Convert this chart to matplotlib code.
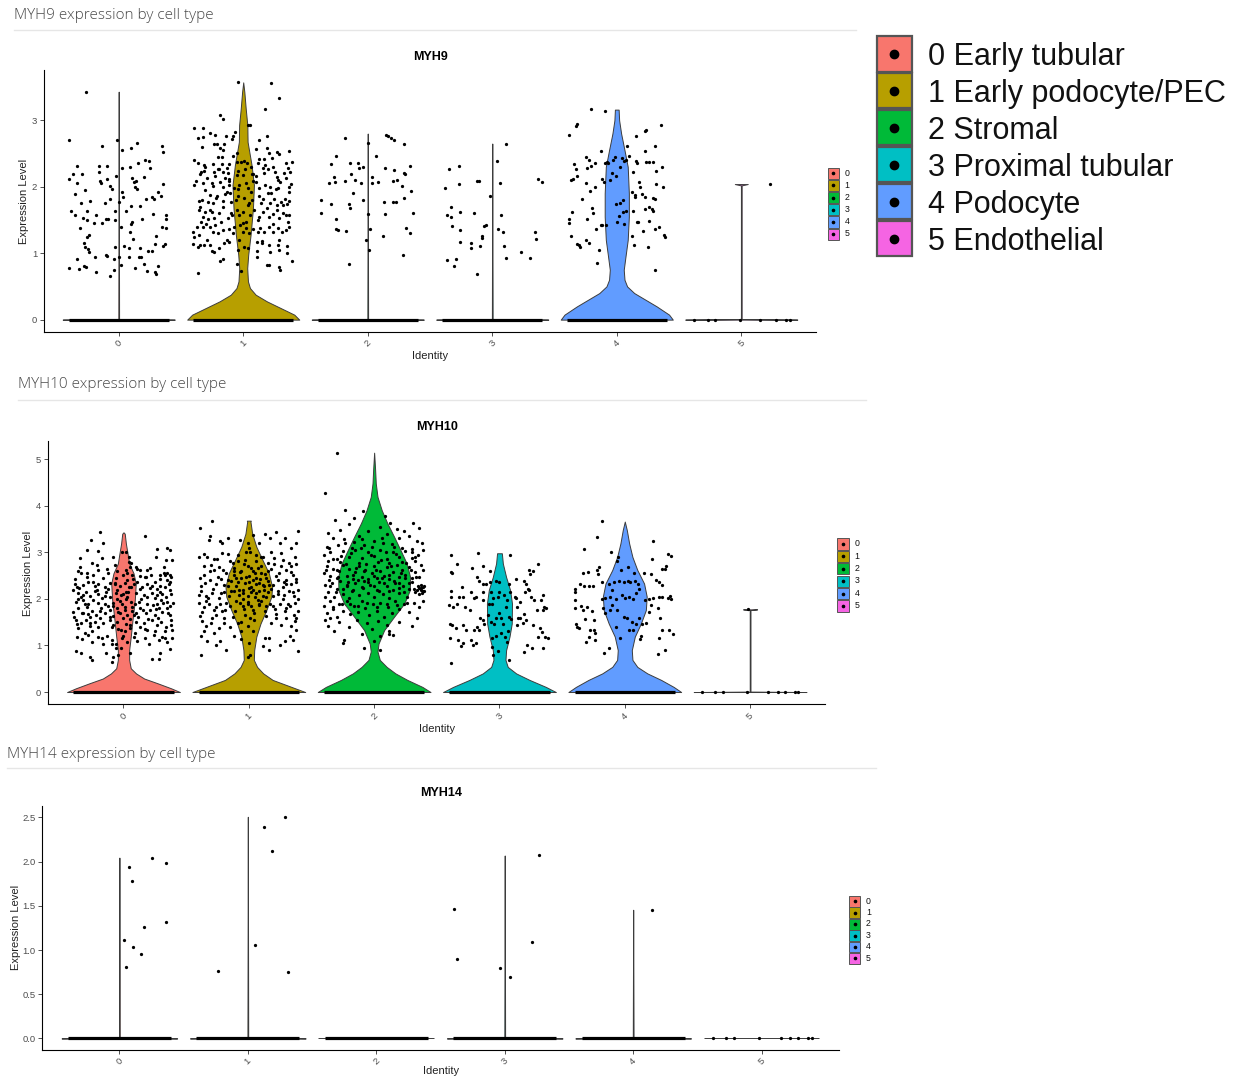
import numpy as np
import matplotlib
matplotlib.use('Agg')
import matplotlib.pyplot as plt
from matplotlib.patches import Rectangle
from matplotlib.lines import Line2D

W, H = 1245, 1076

clusters = ['0', '1', '2', '3', '4', '5']
cell_types = ['Early tubular', 'Early podocyte/PEC', 'Stromal',
              'Proximal tubular', 'Podocyte', 'Endothelial']
colors = ['#F8766D', '#B79F00', '#00BA38', '#00BFC4', '#619CFF', '#F564E3']

# violin outlines: expression level and half width (cluster units)
myh9_vy = [
    [0, .01, 3.43],
    [0, .075, .175, .275, .375, .475, .575, .775, .975, 1.275, 1.675, 2.025, 2.325, 2.675, 2.925, 3.175, 3.425, 3.57],
    [0, .01, 2.80],
    [0, .01, 2.65],
    [0, .075, .2, .3, .4, .5, .6, .75, .95, 1.2, 1.55, 1.9, 2.3, 2.55, 2.8, 3.0, 3.16],
    [0, .01, 2.02, 2.04],
]
myh9_vw = [
    [.45, .003, 0],
    [.45, .41, .30, .19, .10, .054, .038, .032, .04, .059, .078, .086, .067, .035, .033, .02, .009, 0],
    [.45, .003, 0],
    [.45, .003, 0],
    [.45, .42, .32, .23, .14, .083, .062, .056, .07, .088, .097, .097, .088, .062, .035, .019, .015],
    [.45, .003, .003, .052],
]
myh10_vy = [
    [0, .08, .19, .29, .4, .51, .69, .9, 1.19, 1.55, 1.97, 2.33, 2.55, 2.76, 2.98, 3.19, 3.4, 3.43],
    [0, .11, .26, .4, .54, .69, .9, 1.19, 1.47, 1.76, 2.05, 2.26, 2.55, 2.83, 3.12, 3.4, 3.66, 3.68],
    [0, .11, .26, .4, .54, .69, .87, 1.04, 1.33, 1.62, 1.9, 2.19, 2.47, 2.76, 3.05, 3.33, 3.62, 3.9, 4.19, 4.48, 4.77, 5.14],
    [0, .11, .26, .4, .54, .69, .9, 1.19, 1.47, 1.9, 2.19, 2.47, 2.76, 2.98],
    [0, .11, .26, .4, .54, .69, .9, 1.19, 1.47, 1.76, 2.05, 2.33, 2.62, 2.9, 3.19, 3.48, 3.66],
    [0, .01, 1.76, 1.775],
]
myh10_vw = [
    [.45, .38, .27, .165, .1, .058, .045, .045, .058, .072, .09, .098, .08, .045, .032, .019, .01, 0],
    [.45, .34, .19, .115, .066, .04, .043, .06, .093, .14, .18, .186, .16, .11, .06, .027, .013, .016],
    [.45, .385, .265, .17, .1, .045, .027, .035, .08, .16, .24, .285, .287, .26, .21, .16, .106, .061, .027, .013, .008, 0],
    [.45, .37, .24, .133, .066, .048, .053, .08, .098, .1, .085, .053, .027, .019],
    [.45, .39, .29, .18, .1, .061, .056, .08, .128, .168, .175, .154, .1, .061, .035, .016, 0],
    [.45, .003, .003, .056],
]
myh14_vy = [[0, .01, 2.046], [0, .01, 2.508], [0, .002], [0, .01, 2.07], [0, .01, 1.456], [0, .002]]
myh14_vw = [[.45, .003, 0], [.45, .003, 0], [.45, .45], [.45, .003, 0], [.45, .003, 0], [.45, .45]]

# non-zero cells: pairs of (jitter offset, expression level), one list per cluster
myh9_pts = [
    [-.265, 3.425, -.40, 2.71, -.013, 2.70, .349, 2.615, .357, 2.525, .147, 2.665, .099, 2.585, .027, 2.55,
     -.134, 2.615, -.335, 2.315, -.397, 2.115, -.365, 2.185, -.295, 2.185, -.335, 2.055, -.161, 2.315,
     -.161, 2.225, -.094, 2.315, -.153, 2.085, -.094, 2.115, -.072, 2.015, -.054, 1.965, -.024, 2.155,
     .027, 2.275, .094, 2.29, .155, 2.35, .209, 2.40, .241, 2.385, .142, 2.085, .107, 2.135, .121, 2.065,
     .131, 2.00, .147, 1.965, .201, 2.15, .255, 2.275, .314, 1.915, .338, 1.865, .357, 2.04, .268, 1.845,
     .281, 1.815, -.386, 1.64, -.351, 1.575, -.306, 1.76, -.233, 1.79, -.287, 1.535, -.255, 1.64,
     -.255, 1.50, -.18, 1.575, -.107, 1.76, -.067, 1.815, .003, 1.765, .038, 1.85, .102, 1.715, .169, 1.715,
     -.131, 1.46, -.099, 1.515, -.032, 1.50, -.032, 1.64, .097, 1.435, .107, 1.465, .185, 1.515, .276, 1.585,
     .383, 1.57, .378, 1.515, .349, 1.40, .383, 1.385, .303, 1.265, .375, 1.135, .357, 1.115, .295, 1.14,
     .271, 1.03, .236, 1.04, .169, 1.075, .115, 1.21, .08, 1.085, .04, 1.11, -.032, 1.10, -.086, 1.51,
     -.255, 1.24, -.236, 1.275, -.282, 1.16, -.273, 1.10, -.247, 1.065, -.241, 1.025, -.314, 1.385,
     -.332, .905, -.193, .935, -.105, .975, -.096, .96, -.04, .91, .003, .935, .08, .945, .164, .945,
     .182, .94, .204, .835, .225, .735, .29, .71, .298, .685, .316, .81, -.40, .775, -.322, .765, -.276, .81,
     -.26, .795, -.18, .71, -.072, .65, -.038, .75, .021, .815, .131, .77, .062, 1.635, .094, 1.315,
     .016, 1.40, .027, 1.925, .223, 1.815, -.201, 1.45, -.139, 2.05, -.268, 1.95, -.354, 1.89],
    [-.043, 3.575, .225, 3.565, .29, 3.335, .177, 3.165, -.185, 3.085, -.166, 3.015, .054, 2.935, .035, 2.935,
     -.394, 2.885, -.327, 2.885, -.322, 2.745, -.362, 2.74, -.265, 2.815, -.228, 2.785, -.233, 2.64,
     -.214, 2.65, -.137, 2.765, -.086, 2.765, -.094, 2.725, -.153, 2.64, -.166, 2.55, -.064, 2.825,
     .129, 2.71, .188, 2.765, .188, 2.58, .271, 2.525, .29, 2.49, .37, 2.54, .228, 2.425, .164, 2.41,
     .129, 2.41, -.399, 2.40, -.365, 2.36, -.314, 2.325, -.241, 2.335, -.172, 2.45, -.172, 2.335,
     -.113, 2.335, -.086, 2.46, -.046, 2.365, -.019, 2.375, .003, 2.385, .029, 2.36, .064, 2.30, .118, 2.35,
     .177, 2.325, .241, 2.295, .343, 2.35, .389, 2.365, -.343, 2.225, -.314, 2.24, -.346, 2.19, -.233, 2.225,
     -.206, 2.26, -.193, 2.265, -.166, 2.225, -.131, 2.285, -.225, 2.16, -.147, 2.135, -.113, 2.12,
     -.046, 2.175, -.038, 2.24, .016, 2.265, .067, 2.19, .075, 2.195, .102, 2.16, .169, 2.21, .196, 2.26,
     .257, 2.225, .271, 2.15, .33, 2.20, .343, 2.125, .378, 2.215, -.394, 2.025, -.322, 2.05, -.287, 2.125,
     -.311, 1.95, -.239, 2.015, -.188, 2.075, -.166, 2.00, -.118, 2.085, -.118, 2.025, -.131, 1.925,
     -.107, 1.90, -.072, 1.975, -.032, 2.025, .021, 2.05, .035, 1.985, .062, 1.925, .102, 2.065, .129, 1.975,
     .177, 2.025, .217, 2.00, .225, 1.90, .282, 1.975, .298, 2.065, .365, 2.00, .383, 2.035, .37, 1.925,
     -.359, 1.785, -.332, 1.80, -.279, 1.775, -.239, 1.76, -.222, 1.825, -.166, 1.785, -.147, 1.885,
     -.099, 1.775, -.059, 1.80, -.038, 1.865, .008, 1.825, .048, 1.75, .07, 1.80, .142, 1.75, .161, 1.815,
     .214, 1.76, .249, 1.815, .268, 1.725, .303, 1.775, .338, 1.815, .348, 1.735, -.354, 1.65, -.306, 1.615,
     -.268, 1.65, -.327, 1.55, -.343, 1.475, -.279, 1.51, -.247, 1.615, -.233, 1.535, -.193, 1.60,
     -.18, 1.475, -.121, 1.525, -.094, 1.575, -.051, 1.65, -.032, 1.575, -.005, 1.625, .021, 1.475,
     .056, 1.575, .089, 1.65, .123, 1.55, .156, 1.625, .188, 1.675, .209, 1.55, .241, 1.585, .268, 1.65,
     .29, 1.525, .322, 1.60, .37, 1.575, .357, 1.475, -.40, 1.325, -.394, 1.25, -.354, 1.275, -.327, 1.40,
     -.295, 1.435, -.265, 1.40, -.241, 1.325, -.206, 1.30, -.161, 1.35, -.118, 1.365, -.072, 1.40,
     -.027, 1.425, -.005, 1.325, .021, 1.385, .08, 1.365, .121, 1.325, .137, 1.385, .169, 1.325, .204, 1.40,
     .241, 1.325, .282, 1.385, .311, 1.325, .343, 1.35, .365, 1.40, -.40, 1.135, -.349, 1.125, -.314, 1.125,
     -.268, 1.125, -.247, 1.04, -.233, 1.015, -.198, 1.085, -.153, 1.15, -.118, 1.175, -.032, 1.20,
     -.038, 1.05, .008, 1.10, .035, 1.075, .107, 1.175, .11, 1.035, .147, 1.15, .204, 1.125, .214, 1.025,
     .282, 1.125, .29, 1.05, .348, 1.115, .351, 1.00, .389, .875, -.166, .915, -.185, .885, .107, .935,
     .188, .825, .209, .825, .284, .785, .295, .75, -.046, .835, -.019, .725, -.362, .70,
     -.38, 2.08, -.35, 1.7, -.31, 2.3, -.27, 1.88, -.23, 1.42, -.2, 2.44, -.16, 1.7, -.12, 2.2, -.08, 1.3, -.04, 1.96,
     .0, 2.18, .04, 1.72, .08, 2.08, .12, 1.5, .16, 2.28, .2, 1.9, .24, 1.44, .28, 2.1, .32, 1.72, .36, 2.28,
     -.37, 1.4, -.29, 1.2, -.21, 1.86, -.13, 1.2, -.05, 2.5, .05, 1.3, .13, 1.86, .21, 2.5, .29, 1.2, .37, 1.78,
     -.33, 2.6, -.19, 2.58, .1, 2.56, .26, 1.96, .34, 1.58, -.1, 1.6, .0, 1.45, -.25, 2.05, .15, 1.18, -.36, 1.1],
    [-.18, 2.735, .003, 2.66, .147, 2.785, .166, 2.765, .188, 2.735, .214, 2.70, .29, 2.64, -.255, 2.46,
     -.298, 2.335, -.08, 2.36, .064, 2.465, -.145, 2.35, -.072, 2.285, -.035, 2.29, -.274, 2.15,
     -.263, 2.075, -.311, 2.05, -.18, 2.085, -.131, 2.185, -.105, 2.10, -.051, 2.05, .035, 2.15, .032, 2.05,
     .083, 2.075, .137, 2.28, .212, 2.25, .292, 2.20, .303, 2.19, .338, 2.31, .204, 2.085, .231, 2.10,
     .276, 2.015, .346, 1.935, -.378, 1.80, -.298, 1.74, -.153, 1.74, -.118, 1.90, -.145, 1.675, -.038, 1.80,
     .131, 1.775, .204, 1.775, .223, 1.775, .292, 1.825, -.378, 1.60, .003, 1.59, .142, 1.585, .365, 1.61,
     -.252, 1.51, -.257, 1.36, -.239, 1.345, -.172, 1.335, .016, 1.36, .123, 1.26, .311, 1.375, .343, 1.30,
     -.011, 1.20, .008, 1.05, .284, .975, -.15, .84],
    [.11, 2.64, .04, 2.38, -.346, 2.27, -.271, 2.31, -.381, 1.975, -.271, 2.045, -.123, 2.085, -.107, 2.085,
     .064, 2.05, .365, 2.11, .40, 2.07, -.016, 1.86, -.335, 1.69, -.365, 1.575, -.332, 1.54, -.263, 1.625,
     -.15, 1.60, .072, 1.57, -.327, 1.41, -.257, 1.35, -.07, 1.41, -.051, 1.425, .043, 1.365, .086, 1.325,
     .343, 1.325, .354, 1.22, -.083, 1.26, -.083, 1.235, -.26, 1.17, -.174, 1.15, -.174, 1.085, -.102, 1.115,
     .091, 1.11, .231, 1.025, -.365, .90, -.295, .91, -.308, .805, .107, .925, .30, .925, -.123, .685],
    [-.209, 3.165, -.094, 3.145, -.386, 2.775, -.327, 2.91, -.319, 2.94, .236, 2.85, .228, 2.84, .357, 2.925,
     .158, 2.76, .08, 2.615, .311, 2.615, -.126, 2.53, -.247, 2.44, -.22, 2.40, -.172, 2.36, -.097, 2.36,
     -.07, 2.36, -.029, 2.40, .043, 2.425, .056, 2.39, .097, 2.465, .078, 2.40, .153, 2.39, .164, 2.35,
     .225, 2.535, .233, 2.365, .26, 2.375, .287, 2.365, .319, 2.24, .367, 2.30, -.343, 2.34, -.324, 2.265,
     -.204, 2.315, -.236, 2.275, -.319, 2.16, -.351, 2.11, -.365, 2.10, -.115, 2.11, -.105, 2.075,
     -.056, 2.10, -.035, 2.20, -.003, 2.16, .134, 2.215, .18, 2.075, .126, 1.925, .185, 2.00, .204, 1.885,
     .145, 1.85, .145, 1.875, .228, 1.85, .287, 1.825, .308, 1.815, .37, 1.99, .319, 2.04, -.249, 2.05,
     -.172, 1.99, -.212, 1.935, -.276, 1.81, -.196, 1.675, -.19, 1.60, -.236, 1.515, -.362, 1.62, -.386, 1.51,
     -.383, 1.46, -.005, 1.74, .024, 1.75, .051, 1.80, .016, 1.56, .046, 1.615, .078, 1.64, .062, 1.44,
     .005, 1.47, .129, 1.64, .161, 1.47, .172, 1.475, .225, 1.66, .255, 1.49, .26, 1.69, .279, 1.66,
     .287, 1.635, .306, 1.37, .34, 1.39, .381, 1.275, .389, 1.25, .212, 1.33, .121, 1.265, .137, 1.12,
     .252, 1.09, .308, .745, -.118, 1.425, -.083, 1.425, -.164, 1.36, -.365, 1.265, -.319, 1.135,
     -.303, 1.125, -.295, 1.09, -.244, 1.20, -.222, 1.15, -.142, 1.055, -.155, .845, -.123, 1.43,
     -.078, 2.365, -.016, 2.45, .027, 2.30],
    [.228, 2.04],
]
myh10_pts = [
    [-.19, 3.43, -.26, 3.26, .17, 3.35, -.01, 3.01, -.29, 3.05, -.16, 3.2, -.2, 3.03, .35, 3.1, .37, 3.05, .27, 3.08,
     -.35, 2.87, -.17, 2.87, -.25, 2.78, -.08, 2.9, .04, 2.8, .06, 2.78, .26, 2.89, .34, 2.83, .39, 2.83, .11, 2.65,
     .10, 2.69, .19, 2.62, .32, 2.69, .35, 2.56, .37, 2.51,
     -.36, 2.60, -.34, 2.55, -.29, 2.47, -.24, 2.51, -.2, 2.62, -.12, 2.55, -.05, 2.6, .02, 2.62, .03, 2.55, .07, 2.51,
     .13, 2.49, .18, 2.46, .22, 2.51, .29, 2.42, .32, 2.56, .35, 2.40, .38, 2.47,
     -.39, 2.33, -.37, 2.26, -.32, 2.30, -.28, 2.37, -.23, 2.28, -.2, 2.33, -.15, 2.26, -.11, 2.35, -.07, 2.31, -.03, 2.28,
     .01, 2.35, .04, 2.26, .08, 2.32, .11, 2.37, .15, 2.26, .19, 2.33, .23, 2.27, .27, 2.22, .33, 2.26, .36, 2.32,
     -.40, 2.19, -.36, 2.12, -.34, 2.05, -.30, 2.15, -.27, 2.06, -.24, 1.97, -.20, 2.10, -.17, 2.01, -.14, 2.15, -.11, 2.05,
     -.06, 2.13, -.05, 1.99, -.02, 2.08, .02, 2.15, .03, 2.03, .06, 1.94, .10, 2.12, .14, 1.99, .16, 2.08, .19, 2.03,
     .23, 2.12, .25, 2.01, .27, 2.08, .29, 2.15, .30, 1.97, .34, 2.05, .35, 1.94, .38, 2.10, -.38, 1.94, -.32, 1.97,
     -.28, 1.90, -.08, 1.92, -.01, 1.90, .19, 1.90, .27, 1.90, -.21, 2.2, -.15, 1.9,
     -.40, 1.72, -.36, 1.80, -.32, 1.69, -.29, 1.83, -.25, 1.75, -.22, 1.65, -.18, 1.80, -.15, 1.69, -.11, 1.76, -.08, 1.63,
     -.05, 1.80, -.03, 1.69, .01, 1.76, .03, 1.65, .07, 1.83, .10, 1.70, .13, 1.80, .18, 1.69, .21, 1.76, .25, 1.65,
     .28, 1.80, .31, 1.72, .35, 1.80, .37, 1.65, -.27, 1.62, .37, 1.85,
     -.38, 1.55, -.34, 1.49, -.30, 1.55, -.27, 1.42, -.23, 1.51, -.20, 1.40, -.16, 1.49, -.11, 1.55, -.09, 1.39, -.05, 1.51,
     -.02, 1.33, .02, 1.47, .05, 1.37, .10, 1.51, .13, 1.40, .16, 1.49, .19, 1.33, .23, 1.55, .27, 1.44, .30, 1.51,
     .34, 1.40, .38, 1.55, .39, 1.34, -.36, 1.37, .33, 1.32,
     -.37, 1.19, -.33, 1.13, -.28, 1.22, -.25, 1.08, -.2, 1.19, -.16, 1.04, -.13, 1.20, -.09, 1.12, -.06, 1.03, -.01, 1.15,
     .03, 1.08, .08, 1.19, .11, 1.10, .17, 1.15, .2, 1.04, .24, 1.22, .28, 1.12, .31, 1.19, .35, 1.08, .39, 1.15,
     -.38, .88, -.34, .83, -.27, .76, -.25, .69, -.14, .84, -.09, .65, -.08, .76, -.04, .79, .05, .83, .23, .72,
     .28, .72, .29, .83, .37, .92, -.06, .94,
     -.05, 2.2, .02, 2.0, .06, 2.25, -.08, 1.85, .0, 1.6, .05, 1.45, -.04, 1.35, .07, 1.75, -.06, 2.45, .03, 2.4,
     .0, 1.2, -.02, .95, .04, 2.9, .02, 3.0,
     -.385, 2.42, -.355, 2.24, -.325, 2.08, -.305, 1.88, -.285, 1.68, -.265, 1.48, -.245, 2.36, -.225, 2.18,
     -.205, 1.92, -.185, 1.58, -.165, 2.44, -.145, 2.06, -.125, 1.84, -.105, 1.62, -.085, 1.44, -.065, 2.34,
     -.045, 1.72, -.025, 1.96, -.005, 2.52, .015, 1.82, .035, 2.14, .055, 1.56, .075, 2.42, .095, 1.88,
     .115, 1.62, .135, 2.22, .155, 1.76, .175, 2.48, .195, 1.56, .215, 2.24, .235, 1.86, .255, 2.36, .275, 1.6,
     .295, 2.28, .315, 1.92, .335, 2.52, .355, 1.7, .375, 2.2, .395, 1.92, -.395, 1.62, -.37, 1.46, -.35, 2.68,
     -.31, 1.26, -.29, 2.56, -.25, 1.3, -.21, 2.72, -.17, 1.16, -.13, 2.64, -.09, 1.04, -.07, 2.72, .01, 1.3,
     .05, 2.68, .09, 1.26, .13, 2.62, .17, 1.36, .21, 2.66, .25, 1.3, .29, 2.52, .33, 1.16, .37, 2.36,
     -.33, 1.7, -.19, 1.74, .0, 2.1, .12, 1.94, .26, 1.78, .38, 1.44, -.36, 2.0, -.12, 2.22, .08, 1.66, .31, 2.1],
    [-.29, 3.68, -.39, 3.52, -.32, 3.26, -.31, 3.34, -.23, 3.24, -.17, 3.31, .03, 3.38, .13, 3.39, .17, 3.31, .22, 3.43,
     .29, 3.31, .39, 3.45, .38, 3.2, -.21, 3.19, -.07, 3.27, -.01, 3.2, .08, 3.2, .25, 3.2, .34, 3.09,
     -.40, 2.91, -.36, 2.97, -.28, 2.86, -.21, 2.99, -.15, 2.81, -.09, 2.95, -.03, 2.84, .01, 3.0, .06, 2.81, .11, 2.91,
     .15, 2.77, .2, 2.88, .27, 2.84, .32, 2.77, .37, 2.91, .38, 2.74, -.36, 2.7, -.31, 2.59, -.24, 2.69, -.18, 2.56,
     -.12, 2.66, -.07, 2.57, -.01, 2.7, .03, 2.59, .07, 2.66, .13, 2.54, .18, 2.64, .24, 2.56, .3, 2.63, .35, 2.52,
     -.39, 2.45, -.35, 2.34, -.31, 2.41, -.26, 2.31, -.22, 2.43, -.17, 2.27, -.14, 2.38, -.1, 2.27, -.06, 2.45, -.03, 2.34,
     .0, 2.24, .03, 2.41, .06, 2.31, .09, 2.43, .12, 2.27, .15, 2.38, .19, 2.29, .23, 2.4, .27, 2.26, .3, 2.41,
     .34, 2.31, .38, 2.36, -.38, 2.16, -.34, 2.06, -.29, 2.13, -.24, 2.02, -.2, 2.14, -.16, 2.06, -.12, 2.16, -.08, 2.09,
     -.05, 2.19, -.01, 2.07, .02, 2.14, .05, 2.04, .08, 2.16, .11, 2.07, .15, 2.14, .19, 2.06, .23, 2.16, .28, 2.09,
     .32, 2.16, .36, 2.06, .39, 2.2,
     -.4, 1.91, -.36, 1.83, -.32, 1.88, -.28, 1.77, -.23, 1.88, -.19, 1.76, -.15, 1.84, -.11, 1.74, -.07, 1.91, -.04, 1.79,
     -.01, 1.88, .03, 1.76, .08, 1.86, .13, 1.74, .17, 1.88, .21, 1.79, .25, 1.88, .29, 1.74, .33, 1.84, .37, 1.91,
     .39, 1.74, -.26, 1.66, -.2, 1.59,
     -.39, 1.63, -.37, 1.52, -.34, 1.41, -.3, 1.49, -.24, 1.38, -.2, 1.49, -.15, 1.4, -.09, 1.49, -.06, 1.31, -.01, 1.41,
     .01, 1.59, .14, 1.63, .18, 1.49, .22, 1.59, .26, 1.45, .3, 1.59, .34, 1.41, .37, 1.52, .38, 1.34, -.36, 1.31, -.28, 1.27,
     -.38, 1.2, -.33, 1.09, -.26, 1.02, -.18, .9, -.38, .79, -.12, 1.2, -.01, .76, .01, .79, .13, 1.16, .16, 1.16,
     .11, .99, .16, .91, .25, 1.02, .29, 1.09, .33, 1.2, .35, 1.11, .39, .88, -.06, 1.14, -.23, 1.09,
     .0, 2.5, .05, 2.55, -.05, 2.0, .08, 2.35, -.1, 2.45, .1, 1.95, -.08, 2.2, .12, 2.2, .02, 1.85, -.03, 1.65,
     .04, 1.55, .0, 3.1, .06, 2.95, -.04, 2.75, .1, 2.7, -.12, 2.6, .14, 2.45, .02, 2.25, -.06, 1.5, .03, 1.3, .0, 1.05,
     -.385, 2.28, -.355, 2.52, -.325, 2.02, -.305, 2.72, -.285, 2.22, -.265, 1.82, -.245, 2.48, -.225, 2.12,
     -.205, 2.62, -.185, 1.92, -.165, 2.4, -.145, 2.18, -.125, 2.78, -.105, 1.96, -.085, 2.36, -.065, 2.6,
     -.045, 2.12, -.025, 2.46, -.005, 1.94, .015, 2.66, .035, 2.2, .055, 2.44, .075, 1.98, .095, 2.56,
     .115, 2.3, .135, 2.04, .155, 2.6, .175, 2.22, .195, 1.84, .215, 2.5, .235, 2.1, .255, 2.7, .275, 2.0,
     .295, 2.32, .315, 1.9, .335, 2.58, .355, 2.14, .375, 2.42, .395, 2.0, -.395, 2.08, -.37, 1.72, -.33, 2.9,
     -.29, 1.58, -.25, 2.86, -.21, 1.74, -.17, 2.96, -.13, 1.62, -.09, 2.82, -.05, 1.84, -.02, 3.0, .04, 1.7,
     .1, 2.9, .14, 1.84, .18, 3.0, .22, 1.68, .26, 2.98, .3, 1.8, .34, 2.7, .38, 1.58, .08, 1.9,
     -.34, 1.96, -.2, 2.3, .0, 2.36, .16, 2.3, .28, 2.36, .36, 1.66, -.12, 2.52, .06, 2.12, .2, 2.76, -.28, 2.62],
    [-.30, 5.14, -.39, 4.28, -.23, 3.91, -.09, 3.88, .09, 3.78, -.16, 3.73, -.31, 3.69, .13, 3.62, .31, 3.63, -.2, 3.6,
     .18, 3.5, -.27, 3.48, .24, 3.45, .36, 3.52, -.37, 3.42, .05, 3.55, -.05, 3.45, .28, 3.35, .34, 3.25, .38, 3.2,
     -.33, 3.3, -.12, 3.35, .1, 3.4, .2, 3.3, -.24, 3.28, .0, 3.25, -.38, 3.12, .16, 3.12, .3, 3.08, -.08, 3.15,
     .07, 3.2, -.18, 3.1,
     -.4, 2.95, -.35, 3.0, -.3, 2.85, -.25, 3.02, -.2, 2.9, -.15, 3.05, -.1, 2.88, -.05, 3.0, .0, 2.92, .05, 3.05,
     .1, 2.85, .15, 3.0, .2, 2.9, .25, 3.02, .3, 2.88, .35, 2.95, .39, 3.05, -.37, 2.82, -.27, 2.8, -.12, 2.78,
     .03, 2.8, .12, 2.78, .22, 2.8, .33, 2.82,
     -.4, 2.55, -.38, 2.7, -.35, 2.5, -.33, 2.65, -.3, 2.45, -.28, 2.6, -.25, 2.72, -.22, 2.5, -.2, 2.65, -.17, 2.42,
     -.15, 2.58, -.12, 2.7, -.1, 2.48, -.07, 2.62, -.05, 2.43, -.02, 2.55, .0, 2.7, .02, 2.45, .05, 2.6, .08, 2.5,
     .1, 2.68, .12, 2.42, .15, 2.57, .18, 2.72, .2, 2.47, .22, 2.62, .25, 2.52, .28, 2.68, .3, 2.44, .33, 2.58,
     .36, 2.48, .39, 2.62, -.36, 2.4, .37, 2.72,
     -.39, 2.3, -.37, 2.15, -.34, 2.35, -.32, 2.05, -.3, 2.22, -.27, 2.38, -.25, 2.1, -.22, 2.28, -.2, 2.02, -.18, 2.18,
     -.15, 2.35, -.12, 2.08, -.1, 2.25, -.08, 2.38, -.05, 2.12, -.03, 2.3, .0, 2.05, .02, 2.2, .04, 2.36, .07, 2.1,
     .1, 2.27, .12, 2.02, .15, 2.2, .17, 2.35, .2, 2.12, .23, 2.28, .26, 2.05, .28, 2.22, .3, 2.36, .33, 2.15,
     .35, 2.28, .37, 2.2, .39, 2.25, .4, 2.18, .38, 2.12, .36, 2.23, .34, 2.19, .4, 2.27,
     -.4, 1.85, -.38, 1.7, -.35, 1.95, -.33, 1.78, -.3, 1.62, -.28, 1.9, -.25, 1.75, -.22, 1.95, -.19, 1.68, -.16, 1.85,
     -.13, 1.72, -.1, 1.95, -.07, 1.8, -.04, 1.65, -.01, 1.9, .02, 1.75, .05, 1.92, .08, 1.62, .11, 1.82, .14, 1.7,
     .17, 1.95, .2, 1.78, .24, 1.88, .28, 1.72, .32, 1.92, .36, 1.82, .39, 1.96,
     -.39, 1.55, -.37, 1.42, -.35, 1.58, -.32, 1.3, -.28, 1.5, -.24, 1.12, -.2, 1.4, -.14, 1.55, -.1, 1.25, -.06, 1.48,
     -.02, 1.35, .0, 1.1, .03, 1.52, .05, 1.2, .1, 1.45, .15, 1.22, .12, 1.3, .2, 1.5, .3, 1.42, .34, 1.58,
     -.25, 1.05, -.08, .95, .05, .9, .12, 1.25,
     -.385, 2.62, -.355, 2.28, -.325, 2.86, -.305, 2.14, -.285, 2.48, -.265, 2.92, -.245, 2.22, -.225, 2.74,
     -.205, 2.36, -.185, 2.98, -.165, 2.2, -.145, 2.66, -.125, 2.4, -.105, 3.1, -.085, 2.24, -.065, 2.76,
     -.045, 2.36, -.025, 2.94, -.005, 2.28, .015, 2.62, .035, 2.16, .055, 2.84, .075, 2.34, .095, 3.0,
     .115, 2.18, .135, 2.7, .155, 2.38, .175, 2.96, .195, 2.24, .215, 2.56, .235, 2.14, .255, 2.78, .275, 2.34,
     .295, 2.62, .315, 2.22, .335, 2.46, .355, 2.1, .375, 2.3, .39, 2.16, .37, 2.24, -.39, 2.04, -.36, 3.1,
     -.33, 1.82, -.29, 3.16, -.26, 1.88, -.23, 3.2, -.19, 1.9, -.16, 3.22, -.13, 1.84, -.1, 3.28, -.06, 1.92,
     -.02, 3.12, .02, 1.82, .06, 3.3, .1, 1.9, .14, 3.18, .18, 1.86, .22, 3.1, .26, 1.92, .3, 3.0,
     -.3, 2.62, -.17, 2.52, .0, 2.5, .12, 2.52, .25, 2.45, .33, 2.9, -.08, 2.6, .06, 2.44, .2, 2.34, -.22, 2.3],
    [-.386, 2.94, -.173, 2.98, .088, 2.95, -.335, 2.76, -.218, 2.66, -.133, 2.70, -.074, 2.59, .306, 2.76,
     .234, 2.62, .266, 2.60, .245, 2.53, -.388, 2.58, -.378, 2.55, -.181, 2.46, -.16, 2.38, -.128, 2.31,
     -.106, 2.33, -.072, 2.37, -.027, 2.38, -.005, 2.37, .08, 2.33, .133, 2.43, .194, 2.39, .213, 2.32,
     .226, 2.22, .239, 2.19, .205, 2.15, .351, 2.08, -.386, 2.17, -.386, 2.05, -.301, 2.25, -.32, 2.05,
     -.293, 2.05, -.226, 2.15, -.191, 2.05, -.133, 1.97, -.128, 2.15, -.066, 2.15, -.053, 2.01, -.013, 2.05,
     .0, 2.15, .04, 2.08, .059, 1.97, .088, 2.15, .12, 2.05, .128, 2.01, .16, 1.94, .253, 2.05, .279, 1.97,
     .332, 1.97, .359, 1.82, .372, 1.80, .346, 1.76, .298, 1.77, -.4, 1.87, -.372, 1.83, -.338, 1.90,
     -.274, 1.83, -.239, 1.76, -.205, 2.01, -.085, 1.89, -.061, 1.88, .053, 1.83, .138, 1.82, .199, 1.67,
     -.394, 1.47, -.378, 1.44, -.346, 1.37, -.293, 1.44, -.266, 1.33, -.2, 1.34, -.178, 1.40, -.16, 1.33,
     -.154, 1.58, -.133, 1.55, -.12, 1.47, -.093, 1.65, -.066, 1.51, -.045, 1.47, -.027, 1.60, .0, 1.70,
     .013, 1.58, .032, 1.47, .08, 1.62, .093, 1.56, .146, 1.58, .16, 1.60, .138, 1.44, .213, 1.55, .191, 1.49,
     .271, 1.44, .324, 1.37, .34, 1.29, .367, 1.19, .386, 1.17, .306, 1.19, -.394, 1.17, -.332, 1.12,
     -.306, .99, -.293, 1.06, -.226, 1.12, -.213, 1.02, -.186, 1.06, -.061, 1.17, -.027, 1.21, -.059, .97,
     -.013, .88, -.048, .79, .08, .69, .061, 1.08, .218, 1.01, .194, .87, .261, .95, .346, .94, -.386, .62,
     .066, 1.31, .013, 1.26, .048, 1.19],
    [-.181, 3.67, -.221, 3.33, -.327, 3.08, .226, 3.24, -.109, 3.01, .346, 2.96, .372, 2.93, .218, 2.85,
     -.053, 2.90, -.061, 2.82, .027, 2.69, -.027, 2.62, .072, 2.55, -.207, 2.69, -.221, 2.63, -.215, 2.53,
     -.332, 2.56, -.29, 2.58, .154, 2.56, .213, 2.53, .33, 2.70, .298, 2.65, .319, 2.65, .25, 2.40, .271, 2.37,
     .293, 2.30, -.354, 2.33, -.394, 2.22, -.4, 2.15, -.324, 2.27, -.287, 2.27, -.253, 2.27, -.181, 2.37,
     -.128, 2.33, -.088, 2.37, -.043, 2.39, -.008, 2.37, .024, 2.39, .045, 2.37, .085, 2.39, .117, 2.22,
     .106, 2.33, -.181, 1.99, -.154, 2.01, -.114, 2.05, -.074, 1.99, -.021, 2.08, .005, 2.01, .037, 2.03,
     .064, 1.99, .09, 2.13, -.101, 2.20, .191, 1.99, .224, 2.01, .271, 2.05, .293, 2.05, .346, 2.02, .372, 1.99,
     .364, 2.06, .165, 1.97, -.4, 1.97, -.394, 1.80, -.346, 1.85, -.335, 1.76, -.3, 1.83, -.261, 1.75,
     -.242, 1.55, -.314, 1.56, -.386, 1.47, -.38, 1.40, -.367, 1.37, -.274, 1.33, -.247, 1.33, -.234, 1.26,
     -.287, 1.19, -.306, 1.08, -.234, 1.12, -.176, 1.80, -.154, 1.69, -.114, 1.76, -.101, 1.87, -.061, 1.76,
     -.008, 1.62, .019, 1.58, .059, 1.51, .09, 1.47, .138, 1.47, .17, 1.49, .117, 1.58, .213, 1.87, .266, 1.80,
     .191, 1.72, .28, 1.58, .298, 1.34, .356, 1.34, .383, 1.24, .271, 1.17, .125, 1.13, .133, 1.20, .035, 1.34,
     .064, 1.33, -.128, .94, -.162, .83, .324, .90, .266, .82, -.035, 1.15, -.069, 1.39],
    [-.018, 1.775],
]
myh14_pts = [
    [.075, 1.94, .096, 1.776, .257, 2.04, .361, 1.985, .19, 1.265, .364, 1.314, .034, 1.115, .109, 1.03,
     .171, .957, .055, .81],
    [-.234, .762, .055, 1.055, .127, 2.395, .192, 2.12, .291, 2.503, .309, .747],
    [],
    [-.395, 1.464, -.371, .90, -.036, .796, .041, .70, .213, 1.089, .265, 2.072],
    [.145, 1.456],
    [],
]
# the few zero-expression cells of cluster 5 (jitter offsets); other clusters are a solid band
myh9_zero5 = [-.378, -.271, -.209, -.014, .153, .281, .362, .388]
myh10_zero5 = [-.385, -.279, -.22, -.026, .146, .221, .279, .356, .385]
myh14_zero5 = [-.382, -.275, -.215, -.021, .151, .224, .28, .358, .391]

FONT = 'Liberation Sans'


def fxy(x, y):
    return x / W, 1 - y / H


def draw_key(fig, left, top, size, row, fs, gap, labels, dot, lw, base):
    for i, lab in enumerate(labels):
        y0 = top + i * row
        x, y = fxy(left, y0 + size)
        fig.patches.append(Rectangle((x, y), size / W, size / H, transform=fig.transFigure,
                                     facecolor=colors[i], edgecolor='#555555', lw=lw))
        cx, cy = fxy(left + size / 2, y0 + size / 2)
        fig.add_artist(Line2D([cx], [cy], marker='o', ms=dot, color='k', lw=0,
                              transform=fig.transFigure))
        tx, ty = fxy(left + size + gap, y0 + size / 2 + base)
        fig.text(tx, ty, lab, fontsize=fs, va='baseline', ha='left', family=FONT, color='#111111')


def draw_panel(fig, box, vy, vw, pts, zero5, yticks, yfmt):
    l, t, r, b = box
    ax = fig.add_axes([l / W, 1 - b / H, (r - l) / W, (b - t) / H])
    for i in range(6):
        y = np.array(vy[i], float)
        w = np.array(vw[i], float)
        ax.fill_betweenx(y, i - w, i + w, facecolor=colors[i], edgecolor='#3c3c3c', lw=0.7, zorder=2)
    for i in range(5):
        ax.hlines(0, i - 0.4, i + 0.4, color='k', lw=2.3, zorder=3)
    ax.scatter(5 + np.array(zero5), np.zeros(len(zero5)), s=5.5, c='k', lw=0, zorder=4)
    for i, p in enumerate(pts):
        if len(p) == 0:
            continue
        p = np.array(p, float).reshape(-1, 2)
        ax.scatter(i + p[:, 0], p[:, 1], s=5.5, c='k', lw=0, zorder=4)

    ymax = max(max(v) for v in vy)
    ax.set_ylim(-0.05 * ymax, 1.05 * ymax)
    ax.set_xlim(-0.6, 5.6)
    ax.set_yticks(yticks)
    ax.set_yticklabels([yfmt % v for v in yticks])
    ax.set_xticks(range(6))
    ax.set_xticklabels(clusters, rotation=45, ha='center')
    for s in ['top', 'right']:
        ax.spines[s].set_visible(False)
    for s in ['left', 'bottom']:
        ax.spines[s].set_linewidth(0.8)
        ax.spines[s].set_color('black')
    ax.tick_params(length=3, width=0.6, color='#333333', labelsize=6.8,
                   labelcolor='#4d4d4d', pad=2)
    for lab in ax.get_xticklabels() + ax.get_yticklabels():
        lab.set_family(FONT)
    return ax


def main():
    fig = plt.figure(figsize=(W / 100, H / 100), dpi=100)

    # section headings with thin rule below
    heads = [('MYH9 expression by cell type', 14, 19, 30, 856),
             ('MYH10 expression by cell type', 18, 388.5, 399.5, 866),
             ('MYH14 expression by cell type', 7, 757.5, 767.5, 876)]
    for txt, x, yb, yl, xr in heads:
        fig.text(*fxy(x, yb), txt, fontsize=11, family='Open Sans', fontweight='light',
                 color='#4a4a4a', va='baseline', ha='left')
        fig.add_artist(Line2D([x / W, xr / W], [1 - yl / H] * 2, color='#e6e6e6', lw=1,
                              transform=fig.transFigure))

    panels = [
        ('MYH9', (44, 70.5, 816, 331.5), myh9_vy, myh9_vw, myh9_pts, myh9_zero5, [0, 1, 2, 3], '%d',
         57, 430, 356, 24, 201, (827.5, 167.7, 11.2, 12.17)),
        ('MYH10', (48.3, 440.7, 825.3, 704), myh10_vy, myh10_vw, myh10_pts, myh10_zero5,
         [0, 1, 2, 3, 4, 5], '%d', 427.3, 437, 728.5, 28, 573, (837.3, 538.3, 11.3, 12.4)),
        ('MYH14', (42.3, 805.7, 838.7, 1049.5), myh14_vy, myh14_vw, myh14_pts, myh14_zero5,
         [0, .5, 1, 1.5, 2, 2.5], '%.1f', 793.3, 441, 1071, 16.5, 927, (849.3, 896, 10.7, 11.4)),
    ]
    for (gene, box, vy, vw, pts, z5, yt, yf, ty, tx, idy, elx, ely, key) in panels:
        draw_panel(fig, box, vy, vw, pts, z5, yt, yf)
        fig.text(*fxy(tx, ty), gene, fontsize=9, fontweight='bold', family=FONT,
                 ha='center', va='center')
        fig.text(*fxy(tx, idy), 'Identity', fontsize=8, family=FONT, ha='center', va='center',
                 color='#222222')
        fig.text(*fxy(elx, ely), 'Expression Level', fontsize=8, family=FONT, ha='center',
                 va='center', rotation=90, color='#222222')
        kx, ky, ks, kr = key
        draw_key(fig, kx, ky, ks, kr, 6.3, 6, clusters, 1.6, 0.7, 2.2)

    # large legend naming the clusters
    draw_key(fig, 876.5, 36.5, 35, 36.9, 22, 17,
             ['%s %s' % (c, n) for c, n in zip(clusters, cell_types)], 6, 1.6, 11)

    fig.savefig('out.png', dpi=100, facecolor='white')


if __name__ == '__main__':
    main()
